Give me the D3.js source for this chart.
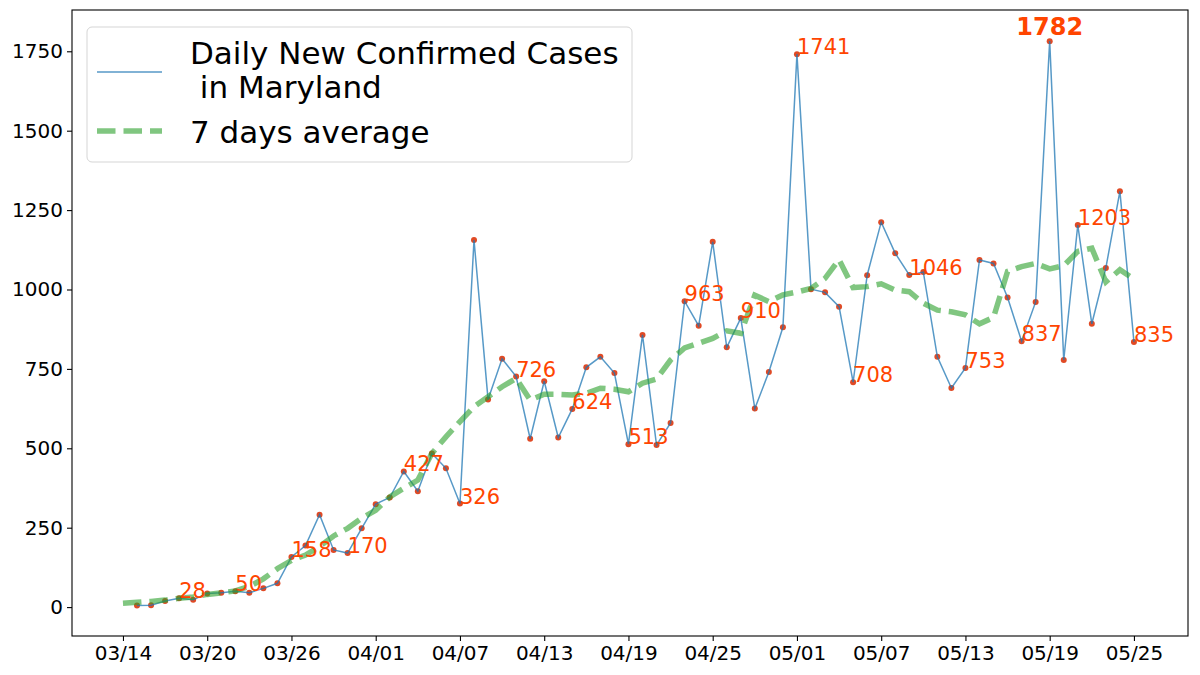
<!DOCTYPE html>
<html>
<head>
<meta charset="utf-8">
<script src="https://cdn.jsdelivr.net/npm/d3@7"></script>
<style>
  body { margin: 0; background: #fff; }
  svg { display: block; font-family: "DejaVu Sans", sans-serif; }
</style>
</head>
<body>
<svg id="chart" width="1200" height="675"></svg>
<script>
// ---------- data ----------
const year = 2020;
const dailyStart = "03/15";
const dailyValues = [5, 6, 19, 28, 23, 43, 45, 50, 45, 59, 75, 158, 194, 291, 180, 170,
  248, 324, 345, 427, 365, 484, 437, 326, 1156, 654, 782, 726, 530, 711, 534, 624,
  755, 788, 737, 513, 857, 510, 580, 963, 886, 1150, 818, 910, 625, 740, 881, 1741,
  1001, 991, 946, 708, 1045, 1212, 1114, 1046, 1055, 788, 690, 753, 1093, 1082, 975, 837,
  961, 1782, 778, 1203, 892, 1068, 1309, 835];
const avgStart = "03/14";
const avgValues = [12, 15, 18, 22, 28, 32, 40, 45, 51, 65, 89, 121, 147, 164, 191, 224,
  248, 280, 305, 347, 374, 400, 484, 536, 584, 631, 662, 694, 720, 652, 670, 670,
  668, 673, 689, 686, 678, 705, 718, 778, 816, 831, 846, 870, 862, 982, 962, 983,
  992, 1003, 1035, 1094, 1006, 1009, 1018, 998, 993, 957, 935, 930, 920, 892,
  912, 1057, 1072, 1082, 1065, 1075, 1120, 1130, 1024, 1062, 1033];
const annotatedDates = ["03/18", "03/22", "03/26", "03/30", "04/03", "04/07", "04/11",
  "04/15", "04/19", "04/23", "04/27", "05/01", "05/05", "05/09", "05/13", "05/17",
  "05/21", "05/25"];
const xTickLabels = ["03/14", "03/20", "03/26", "04/01", "04/07", "04/13", "04/19",
  "04/25", "05/01", "05/07", "05/13", "05/19", "05/25"];
const yTickValues = [0, 250, 500, 750, 1000, 1250, 1500, 1750];
const legendLabels = ["Daily New Confirmed Cases\n in Maryland", "7 days average"];

// ---------- helpers ----------
const DAY = 86400000;
const parse = s => { const [m, d] = s.split("/").map(Number); return new Date(Date.UTC(year, m - 1, d)); };
const addDays = (dt, n) => new Date(dt.getTime() + n * DAY);
const dailyData = dailyValues.map((v, i) => ({ date: addDays(parse(dailyStart), i), value: v }));
const avgData = avgValues.map((v, i) => ({ date: addDays(parse(avgStart), i), value: v }));
const fmt = d3.utcFormat("%m/%d");

// ---------- layout ----------
const svg = d3.select("#chart");
const plot = { left: 72, right: 1188, top: 10, bottom: 636 };
const origin = parse("03/14");
const x = d3.scaleUtc()
  .domain([addDays(origin, -3.63), addDays(origin, 75.85)])
  .range([plot.left, plot.right]);
const y = d3.scaleLinear().domain([-91, 1880]).range([plot.bottom, plot.top]);

// axes
const xAxis = d3.axisBottom(x)
  .tickValues(xTickLabels.map(parse))
  .tickFormat(fmt).tickSize(5).tickPadding(5);
const yAxis = d3.axisLeft(y).tickValues(yTickValues)
  .tickFormat(d3.format("d")).tickSize(5).tickPadding(4);

const gx = svg.append("g").attr("transform", `translate(0,${plot.bottom})`).call(xAxis);
const gy = svg.append("g").attr("transform", `translate(${plot.left},0)`).call(yAxis);
[gx, gy].forEach(g => {
  g.select(".domain").remove();
  g.selectAll("text").attr("font-size", 20).attr("fill", "#000")
    .attr("font-family", "DejaVu Sans");
  g.selectAll("line").attr("stroke", "#000").attr("stroke-width", 1.1);
});

// clip
svg.append("clipPath").attr("id", "clip").append("rect")
  .attr("x", plot.left).attr("y", plot.top)
  .attr("width", plot.right - plot.left).attr("height", plot.bottom - plot.top);

const g = svg.append("g").attr("clip-path", "url(#clip)");

// dots
g.selectAll("circle.dot").data(dailyData).join("circle")
  .attr("class", "dot")
  .attr("cx", d => x(d.date)).attr("cy", d => y(d.value)).attr("r", 3)
  .attr("fill", "#e04a25");

// daily line
const line = d3.line().x(d => x(d.date)).y(d => y(d.value));
g.append("path").datum(dailyData)
  .attr("d", line).attr("fill", "none")
  .attr("stroke", "#1f77b4").attr("stroke-opacity", 0.75).attr("stroke-width", 1.5);

// average line
g.append("path").datum(avgData)
  .attr("d", line).attr("fill", "none")
  .attr("stroke", "#2ca02c").attr("stroke-opacity", 0.6).attr("stroke-width", 5.5)
  .attr("stroke-dasharray", "18.5,8");

// frame
svg.append("rect")
  .attr("x", plot.left).attr("y", plot.top)
  .attr("width", plot.right - plot.left).attr("height", plot.bottom - plot.top)
  .attr("fill", "none").attr("stroke", "#000").attr("stroke-width", 1.1);

// annotations
const annotated = annotatedDates.map(s => dailyData.find(d => fmt(d.date) === s));
svg.append("g").selectAll("text").data(annotated).join("text")
  .attr("x", d => x(d.date)).attr("y", d => y(d.value))
  .attr("font-size", 21).attr("fill", "#ff4500")
  .text(d => d.value);

const maxPt = dailyData.reduce((a, b) => (b.value > a.value ? b : a));
svg.append("text")
  .attr("x", x(maxPt.date)).attr("y", y(maxPt.value) - 6)
  .attr("text-anchor", "middle").attr("font-size", 24).attr("font-weight", "bold")
  .attr("fill", "#ff4500").text(maxPt.value);

// legend
const lg = svg.append("g");
lg.append("rect").attr("x", 87).attr("y", 27).attr("width", 545).attr("height", 135)
  .attr("rx", 5).attr("fill", "#fff").attr("fill-opacity", 0.8)
  .attr("stroke", "#d5d5d5").attr("stroke-width", 1);
lg.append("line").attr("x1", 97).attr("x2", 162).attr("y1", 72).attr("y2", 72)
  .attr("stroke", "#1f77b4").attr("stroke-opacity", 0.75).attr("stroke-width", 1.5);
lg.append("line").attr("x1", 97).attr("x2", 162).attr("y1", 131).attr("y2", 131)
  .attr("stroke", "#2ca02c").attr("stroke-opacity", 0.6).attr("stroke-width", 5.5)
  .attr("stroke-dasharray", "18.5,8");
const l1 = lg.append("text").attr("font-size", 31).attr("fill", "#000")
  .attr("xml:space", "preserve").style("white-space", "pre");
legendLabels[0].split("\n").forEach((t, i) => {
  l1.append("tspan").attr("x", 190).attr("y", 64 + i * 34).text(t);
});
lg.append("text").attr("font-size", 31).attr("fill", "#000")
  .attr("x", 190).attr("y", 143).text(legendLabels[1]);
</script>
</body>
</html>
